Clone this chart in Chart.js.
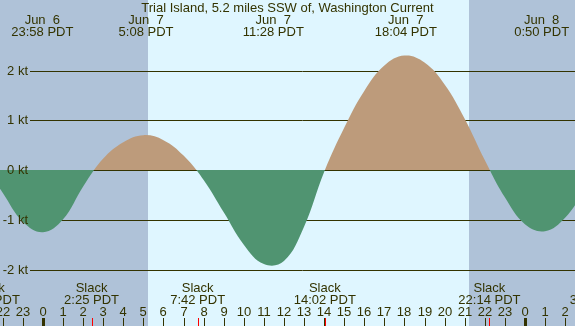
<!DOCTYPE html>
<html>
<head>
<meta charset="utf-8">
<script src="https://cdn.jsdelivr.net/npm/chart.js@4"></script>
<style>
  html, body { margin: 0; padding: 0; background: #dff6ff; }
  canvas { display: block; }
</style>
</head>
<body>
<canvas id="tideChart" width="575" height="326"></canvas>
<script>
// Hours are counted from Jun 7 00:00 PDT
const hours = [-3, -2, -1, 0, 1, 2, 3, 4, 5, 6, 7, 8, 9, 10, 11, 12, 13, 14,
               15, 16, 17, 18, 19, 20, 21, 22, 23, 24, 25, 26, 27];
const knots = [0.15, -0.46, -1.04, -1.25, -0.99, -0.33, 0.23, 0.56, 0.70, 0.60, 0.29,
               -0.20, -0.85, -1.50, -1.89, -1.83, -1.14, -0.04,
               0.85, 1.59, 2.10, 2.30, 2.16, 1.72, 1.03, 0.20,
               -0.55, -1.09, -1.23, -0.96, -0.40];

const peakHours = [-0.033, 5.133, 11.467, 18.067, 24.833];
const peakDates = ['Jun  6', 'Jun  7', 'Jun  7', 'Jun  7', 'Jun  8'];
const peakTimes = ['23:58 PDT', '5:08 PDT', '11:28 PDT', '18:04 PDT', '0:50 PDT'];

const slackHours = [-2.7, 2.417, 7.7, 14.033, 22.233, 27.6];
const slackTimes = ['21:18 PDT', '2:25 PDT', '7:42 PDT', '14:02 PDT', '22:14 PDT', '3:36 PDT'];

const sunrise = 5.23;
const sunset = 21.22;
const yTicks = [2, 1, 0, -1, -2];
const tickHours = [-2, -1, 0, 1, 2, 3, 4, 5, 6, 7, 8, 9, 10, 11, 12, 13, 14, 15,
                   16, 17, 18, 19, 20, 21, 22, 23, 24, 25, 26, 27];

const title = 'Trial Island, 5.2 miles SSW of, Washington Current';

const FG = '#333300';
const FONT = '13px "Liberation Sans", Arial, sans-serif';

const backdrop = {
    id: 'backdrop',
    beforeDatasetsDraw(chart) {
        const ctx = chart.ctx;
        const x = chart.scales.x, y = chart.scales.y;
        const w = chart.width, h = chart.height;
        ctx.save();
        ctx.fillStyle = '#dff6ff';
        ctx.fillRect(0, 0, w, h);
        ctx.fillStyle = '#afc2d8';
        let xr = Math.round(x.getPixelForValue(sunrise));
        let xs = Math.round(x.getPixelForValue(sunset));
        ctx.fillRect(0, 0, xr, h);
        ctx.fillRect(xs, 0, w - xs, h);

        ctx.strokeStyle = FG;
        ctx.lineWidth = 1;
        yTicks.forEach(v => {
            let py = Math.round(y.getPixelForValue(v)) + 0.5;
            ctx.beginPath();
            ctx.moveTo(30, py);
            ctx.lineTo(w, py);
            ctx.stroke();
        });
        ctx.restore();
    },
    afterDatasetsDraw(chart) {
        const ctx = chart.ctx;
        const x = chart.scales.x, y = chart.scales.y;
        const w = chart.width, h = chart.height;
        ctx.save();
        ctx.font = FONT;
        ctx.fillStyle = FG;
        ctx.textBaseline = 'middle';

        ctx.textAlign = 'right';
        yTicks.forEach(v => {
            ctx.fillText(v + ' kt', 28, Math.round(y.getPixelForValue(v)));
        });

        ctx.textAlign = 'center';
        ctx.fillText(title, w / 2, 8);
        peakHours.forEach((ph, i) => {
            let px = x.getPixelForValue(ph);
            ctx.fillText(peakDates[i], px, 20);
            ctx.fillText(peakTimes[i], px, 32);
        });
        slackHours.forEach((sh, i) => {
            let px = x.getPixelForValue(sh);
            ctx.fillText('Slack', px, 288);
            ctx.fillText(slackTimes[i], px, 300);
        });

        tickHours.forEach(th => {
            let px = Math.round(x.getPixelForValue(th));
            let hr = ((th % 24) + 24) % 24;
            ctx.fillText(String(hr), px, 312);
            ctx.fillStyle = FG;
            if (hr === 0) {
                ctx.fillRect(px - 1, 318, 3, h - 318);
            } else {
                ctx.fillRect(px, 318, 1, h - 318);
            }
        });
        ctx.fillStyle = '#ff0000';
        slackHours.forEach(sh => {
            let px = Math.round(x.getPixelForValue(sh));
            ctx.fillRect(px, 318, 1, h - 318);
        });
        ctx.restore();
    }
};

new Chart(document.getElementById('tideChart'), {
    type: 'line',
    data: {
        datasets: [{
            data: hours.map((hr, i) => ({ x: hr, y: knots[i] })),
            borderColor: 'transparent',
            borderWidth: 0,
            pointRadius: 0,
            tension: 0.4,
            fill: { target: { value: 0 }, above: '#bd9b7b', below: '#509471' }
        }]
    },
    options: {
        responsive: false,
        animation: false,
        devicePixelRatio: 1,
        layout: { padding: 0 },
        plugins: { legend: { display: false }, tooltip: { enabled: false } },
        scales: {
            x: { type: 'linear', display: false, min: -43 / 20.08, max: (575 - 43) / 20.08 },
            y: { type: 'linear', display: false, min: -156 / 49.75, max: 170 / 49.75 }
        }
    },
    plugins: [backdrop]
});
</script>
</body>
</html>
